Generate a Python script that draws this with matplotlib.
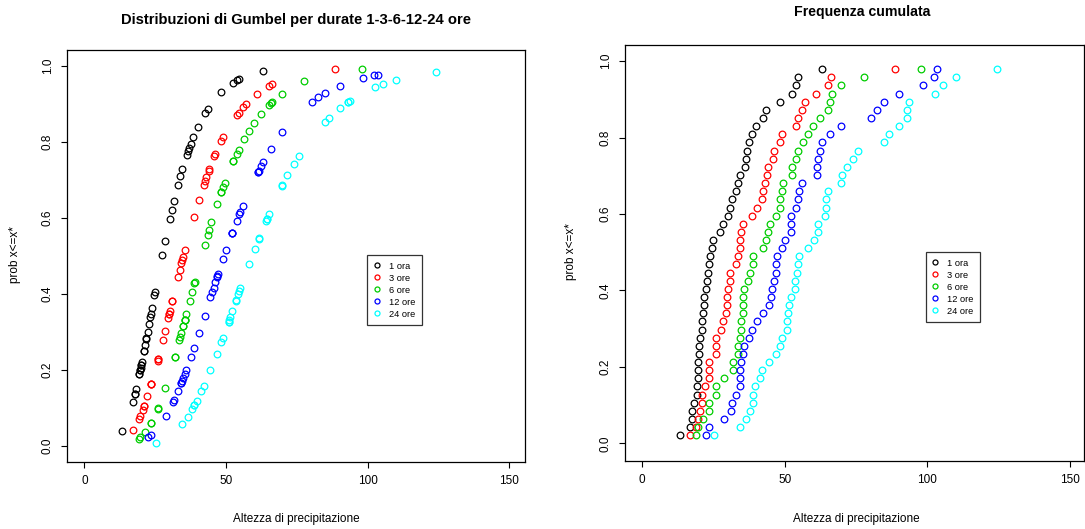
import numpy as np
import matplotlib
matplotlib.use("Agg")
import matplotlib.pyplot as plt

plt.rcParams['font.family'] = ['Liberation Sans', 'DejaVu Sans']

# altezze di precipitazione (mm), ordinate in modo crescente
durate = ["1 ora", "3 ore", "6 ore", "12 ore", "24 ore"]
colori = ["black", "red", "#00CD00", "blue", "cyan"]

h_1ora = [13.3, 17.0, 17.7, 17.7, 18.1, 19.3, 19.3, 19.6, 19.6, 19.8,
          20.0, 20.0, 20.2, 21.0, 21.0, 21.4, 21.8, 21.9, 22.3, 22.8,
          23.3, 23.5, 23.9, 24.7, 24.9, 27.4, 28.4, 30.1, 30.8, 31.5,
          33.0, 33.8, 34.5, 36.1, 36.6, 36.9, 37.5, 38.4, 40.0, 42.5,
          43.5, 48.3, 52.4, 53.8, 54.7, 62.9]
h_3ore = [17.0, 19.1, 19.5, 20.5, 21.0, 21.0, 22.2, 23.5, 23.5, 23.5,
          25.8, 26.0, 26.0, 27.7, 28.4, 29.5, 29.9, 29.9, 30.1, 31.0,
          31.0, 33.0, 33.6, 34.2, 34.5, 34.8, 35.4, 38.6, 40.3, 42.1,
          42.5, 43.1, 43.9, 44.1, 45.9, 46.2, 48.3, 49.1, 53.8, 54.5,
          56.1, 57.0, 60.8, 65.0, 66.1, 88.6]
h_6ore = [19.1, 19.7, 21.4, 23.5, 23.5, 25.8, 26.0, 28.6, 31.9, 31.9,
          33.5, 33.8, 34.2, 34.8, 34.8, 35.4, 35.4, 35.4, 35.9, 37.1,
          38.0, 38.8, 38.9, 42.4, 43.5, 44.0, 44.8, 46.8, 48.3, 48.3,
          48.9, 49.5, 52.6, 52.6, 53.8, 54.5, 56.5, 58.0, 60.0, 62.3,
          65.0, 65.8, 66.4, 69.7, 77.7, 97.9]
h_12ore = [22.3, 23.5, 28.7, 31.3, 31.6, 33.0, 34.2, 34.2, 34.5, 34.8,
           35.4, 35.9, 37.5, 38.6, 40.4, 42.4, 44.5, 45.1, 45.6, 46.2,
           46.8, 46.9, 47.2, 48.9, 50.0, 52.2, 52.2, 52.2, 53.8, 54.7,
           55.0, 55.9, 61.2, 61.2, 61.5, 62.3, 63.1, 65.8, 69.7, 80.2,
           82.5, 84.8, 90.1, 98.3, 102.3, 103.5]
h_24ore = [25.4, 34.5, 36.4, 38.0, 38.8, 38.8, 39.6, 41.3, 42.1, 44.5,
           46.8, 48.3, 48.9, 50.9, 50.9, 51.1, 51.5, 52.2, 53.5, 53.6,
           54.4, 54.7, 55.1, 58.2, 60.2, 61.5, 61.7, 64.1, 64.4, 64.4,
           65.2, 69.7, 69.9, 71.7, 74.0, 75.7, 84.8, 86.4, 90.1, 93.0,
           93.0, 93.7, 102.7, 105.3, 109.9, 124.2]

serie = [h_1ora, h_3ore, h_6ore, h_12ore, h_24ore]


# Gumbel con il metodo dei momenti
def gumbel_cdf(h):
    h = np.asarray(h)
    alpha = np.sqrt(6) * h.std(ddof=1) / np.pi
    u = h.mean() - 0.5772 * alpha
    return np.exp(-np.exp(-(h - u) / alpha))


# frequenza cumulata di Weibull i/(n+1)
def freq_cumulata(h):
    n = len(h)
    return np.arange(1, n + 1) / (n + 1)


def stile(ax, xlim, ylim):
    ax.set_xlim(*xlim)
    ax.set_ylim(*ylim)
    ax.set_xticks([0, 50, 100, 150])
    ax.set_yticks([0.0, 0.2, 0.4, 0.6, 0.8, 1.0])
    ax.set_yticklabels(["0.0", "0.2", "0.4", "0.6", "0.8", "1.0"])
    ax.tick_params(direction='out', length=4.5, width=0.8, labelsize=8.5, pad=5)
    for lab in ax.get_yticklabels():
        lab.set_rotation(90)
        lab.set_va('center')
    for s in ax.spines.values():
        s.set_linewidth(0.9)
    leg = ax.legend(loc='upper left', bbox_to_anchor=(0.656, 0.502), fontsize=6.7,
                    frameon=True, fancybox=False, edgecolor='black',
                    handlelength=0.6, handletextpad=1.0, labelspacing=0.32,
                    borderpad=0.7, markerscale=0.75, borderaxespad=0)
    leg.get_frame().set_linewidth(0.9)


fig = plt.figure(figsize=(10.85, 5.29), dpi=100)
ax1 = fig.add_axes([0.0618, 0.1267, 0.4221, 0.7788])
ax2 = fig.add_axes([0.576, 0.1285, 0.4230, 0.7864])

for h, col, lab in zip(serie, colori, durate):
    ax1.plot(h, gumbel_cdf(h), 'o', mfc='none', mec=col, ms=4.8, mew=0.9, label=lab)
    ax2.plot(h, freq_cumulata(h), 'o', mfc='none', mec=col, ms=4.8, mew=0.9, label=lab)

stile(ax1, (-6.15, 155.6), (-0.042, 1.042))
stile(ax2, (-5.95, 154.8), (-0.046, 1.042))

fig.text(296 / 1085, 1 - 20 / 529, "Distribuzioni di Gumbel per durate 1-3-6-12-24 ore",
         ha='center', va='center', fontsize=10.6, fontweight='bold')
fig.text(862 / 1085, 1 - 12 / 529, "Frequenza cumulata",
         ha='center', va='center', fontsize=10.2, fontweight='bold')

fig.text(296 / 1085, 1 - 519 / 529, "Altezza di precipitazione",
         ha='center', va='center', fontsize=8.5)
fig.text(856 / 1085, 1 - 519 / 529, "Altezza di precipitazione",
         ha='center', va='center', fontsize=8.5)
fig.text(15 / 1085, 1 - 255 / 529, "prob x<=x*", rotation=90,
         ha='center', va='center', fontsize=8.5)
fig.text(571 / 1085, 1 - 252 / 529, "prob x<=x*", rotation=90,
         ha='center', va='center', fontsize=8.5)

fig.savefig("out.png", dpi=100)
